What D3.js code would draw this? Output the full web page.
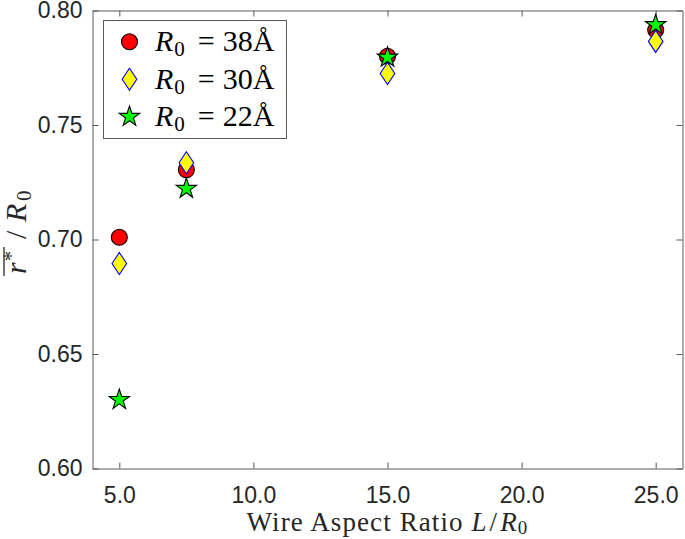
<!DOCTYPE html>
<html>
<head>
<meta charset="utf-8">
<script src="https://cdn.jsdelivr.net/npm/d3@7"></script>
<style>
  html, body { margin: 0; padding: 0; background: #fff; }
  svg { display: block; }
</style>
</head>
<body>
<svg id="chart" width="685" height="539"></svg>
<script>
// ---- data ----
const aspectRatios = [5, 7.5, 15, 25];
const seriesR38 = [0.701, 0.7305, 0.7800, 0.7915];
const seriesR30 = [0.6895, 0.7335, 0.7725, 0.7865];
const seriesR22 = [0.630, 0.7222, 0.7795, 0.7937];
const seriesNames = ["38", "30", "22"];
const xTickValues = [5, 10, 15, 20, 25];
const yTickValues = [0.60, 0.65, 0.70, 0.75, 0.80];

// ---- layout ----
const W = 685, H = 539;
const margin = {left: 92.5, right: 2.5, top: 10.5, bottom: 70.5};
const svg = d3.select("#chart");

const x = d3.scaleLinear().domain([4, 26]).range([margin.left, W - margin.right]);
const y = d3.scaleLinear().domain([0.6, 0.8]).range([H - margin.bottom, margin.top]);

const axisColor = "#5a5a5a";
const labelColor = "#262626";
const tickFont = "'Liberation Sans', Arial, Helvetica, sans-serif";
const serif = "'Liberation Serif', 'Times New Roman', serif";

// custom symbol shapes
const diamondSym = { draw(ctx, size) { const hw = 7.3, hh = 11; ctx.moveTo(0, -hh); ctx.lineTo(hw, 0); ctx.lineTo(0, hh); ctx.lineTo(-hw, 0); ctx.closePath(); } };
const circleSym = { draw(ctx, size) { const r = 8; ctx.moveTo(r, 0); ctx.arc(0, 0, r, 0, 2 * Math.PI); ctx.closePath(); } };
const starR = 10.7;
const starSize = starR * starR / 0.8908130915292852;

const styles = [
  {sym: d3.symbol(circleSym), fill: "#ff0000", stroke: "#000000"},
  {sym: d3.symbol(diamondSym), fill: "#ffff00", stroke: "#0000ff"},
  {sym: d3.symbol(d3.symbolStar, starSize), fill: "#00ff00", stroke: "#000000"}
];
const allSeries = [seriesR38, seriesR30, seriesR22];

// ---- axes ----
const gx = svg.append("g").attr("transform", `translate(0,${H - margin.bottom})`)
  .call(d3.axisBottom(x).tickValues(xTickValues).tickFormat(d3.format(".1f"))
    .tickSizeInner(-6).tickSizeOuter(0).tickPadding(18.5));
const gxt = svg.append("g").attr("transform", `translate(0,${margin.top})`)
  .call(d3.axisTop(x).tickValues(xTickValues).tickFormat("").tickSizeInner(-6).tickSizeOuter(0));
const gy = svg.append("g").attr("transform", `translate(${margin.left},0)`)
  .call(d3.axisLeft(y).tickValues(yTickValues).tickFormat(d3.format(".2f"))
    .tickSizeInner(-6).tickSizeOuter(0).tickPadding(10));
const gyr = svg.append("g").attr("transform", `translate(${W - margin.right},0)`)
  .call(d3.axisRight(y).tickValues(yTickValues).tickFormat("").tickSizeInner(-6).tickSizeOuter(0));

[gx, gxt, gy, gyr].forEach(g => {
  g.select(".domain").attr("stroke", axisColor).attr("stroke-width", 1);
  g.selectAll(".tick line").attr("stroke", axisColor).attr("stroke-width", 1);
  g.selectAll(".tick text").attr("fill", labelColor).style("font-family", tickFont).style("font-size", "23px");
});

// ---- markers ----
allSeries.forEach((vals, si) => {
  const st = styles[si];
  svg.append("g").selectAll("path").data(vals).join("path")
    .attr("transform", (d, i) => `translate(${x(aspectRatios[i])},${y(d)})`)
    .attr("d", st.sym())
    .attr("fill", st.fill).attr("stroke", st.stroke).attr("stroke-width", 1.1);
});

// ---- legend ----
const lg = svg.append("g");
lg.append("rect").attr("x", 103.5).attr("y", 20.5).attr("width", 183).attr("height", 118)
  .attr("fill", "#fff").attr("stroke", axisColor).attr("stroke-width", 1);
seriesNames.forEach((name, i) => {
  const cy = 41.7 + i * 37.5;
  const st = styles[i];
  lg.append("path").attr("transform", `translate(129.5,${cy})`).attr("d", st.sym())
    .attr("fill", st.fill).attr("stroke", st.stroke).attr("stroke-width", 1.1);
  const t = lg.append("text").attr("x", 155).attr("y", cy + 9.5)
    .style("font-family", serif).style("font-size", "30px").attr("fill", "#000");
  t.append("tspan").style("font-style", "italic").text("R");
  t.append("tspan").attr("dy", 5).attr("dx", 1).style("font-size", "21px").text("0");
  t.append("tspan").attr("dy", -5).attr("dx", 13).text("=");
  t.append("tspan").attr("dx", 8).text(name + "Å");
});

// ---- axis titles ----
const xt = svg.append("text").attr("x", (margin.left + W - margin.right) / 2).attr("y", 531)
  .attr("text-anchor", "middle").style("font-family", serif).style("font-size", "27px")
  .style("letter-spacing", "1.1px").attr("fill", labelColor);
xt.append("tspan").text("Wire Aspect Ratio ");
xt.append("tspan").style("font-style", "italic").text("L");
xt.append("tspan").attr("dx", 2).text("/");
xt.append("tspan").attr("dx", 2).style("font-style", "italic").text("R");
xt.append("tspan").attr("dy", 3).style("font-size", "19px").text("0");

// y title: rotated, reading upward; local x=0 sits at the bottom end of the label
const yg = svg.append("g").attr("transform", "translate(26,276) rotate(-90)");
const ytxt = yg.append("text").style("font-family", serif).style("font-size", "30px").attr("fill", labelColor);
ytxt.append("tspan").attr("x", 2).attr("y", 0).style("font-style", "italic").text("r");
ytxt.append("tspan").attr("x", 15).attr("y", -8).style("font-size", "20px").text("*");
ytxt.append("tspan").attr("x", 37).attr("y", 0).text("/");
ytxt.append("tspan").attr("x", 54).attr("y", 0).style("font-style", "italic").text("R");
ytxt.append("tspan").attr("x", 75).attr("y", 5).style("font-size", "21px").text("0");
yg.append("line").attr("x1", 0).attr("x2", 29).attr("y1", -22).attr("y2", -22)
  .attr("stroke", labelColor).attr("stroke-width", 1.3);
</script>
</body>
</html>
